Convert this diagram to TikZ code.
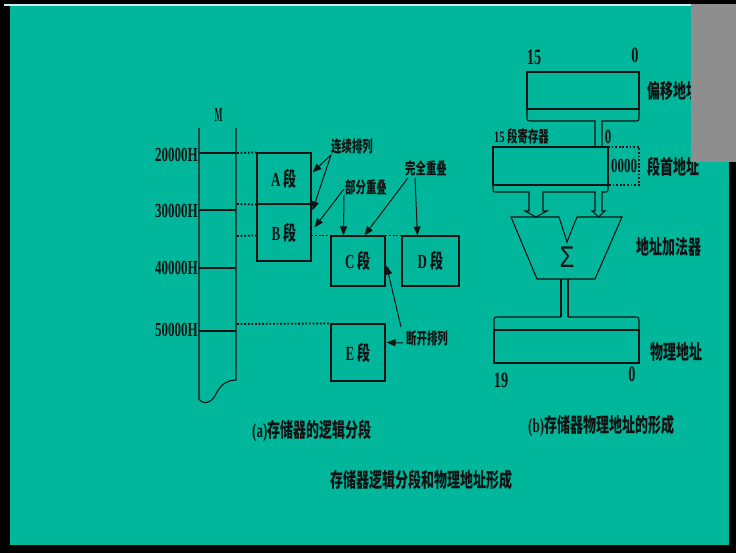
\documentclass[tikz,border=0pt]{standalone}
\usepackage{fontspec}
\setmainfont{Liberation Serif}
\newfontfamily\cjk{Noto Sans CJK SC}
\newfontfamily\sigfont{Liberation Sans}
\usetikzlibrary{arrows.meta,calc}
\definecolor{bg}{RGB}{0,183,156}
\definecolor{inkc}{RGB}{18,18,18}
\definecolor{panelgray}{RGB}{142,142,142}
\newcommand\sq[1]{\scalebox{0.65}[1]{#1}}
\begin{document}
\begin{tikzpicture}[x=1pt,y=-1pt,
  ink/.style={draw=inkc, line width=1.1pt},
  segbox/.style={ink, minimum width=54pt, inner sep=0pt, text=inkc, font=\fontsize{20}{22}\selectfont\bfseries},
  dotl/.style={draw=inkc, line width=1.8pt, dash pattern=on 1.8pt off 1.8pt},
  arr/.style={draw=inkc, line width=1pt, -{Triangle[length=9pt,width=7pt]}},
  big/.style={inner sep=0pt, text=inkc, font=\fontsize{20}{22}\selectfont\bfseries},
  bigger/.style={inner sep=0pt, text=inkc, font=\fontsize{22}{24}\selectfont\bfseries},
  small/.style={inner sep=0pt, text=inkc, font=\fontsize{16}{18}\selectfont\bfseries}]
\useasboundingbox (0,0) rectangle (736,553);
% background
\fill[black] (0,0) rectangle (736,553);
\fill[bg] (10,6.3) rectangle (729,545);
\fill[white!80!bg] (4,4.5) rectangle (691,6.3);

% ---------- (a) logical segments ----------
\draw[ink] (199,128) -- (199,399) .. controls (203,405) and (212,404) .. (217,392)
  .. controls (222,383) and (229,380) .. (236,380) -- (236,128);
\foreach \yy in {153,210,268,331} \draw[ink] (199,\yy) -- (236,\yy);

\node[big] (M) at (218.5,115) {\scalebox{0.42}[1]{M}};
\node[big, anchor=east] (h2) at (198,155) {\sq{20000H}};
\node[big, anchor=east] (h3) at (198,211) {\sq{30000H}};
\node[big, anchor=east] (h4) at (198,268) {\sq{40000H}};
\node[big, anchor=east] (h5) at (198,330) {\sq{50000H}};

\node[segbox, minimum height=51pt] (A) at (284,178.5) {\sq{A {\cjk 段}}};
\node[segbox, minimum height=57pt] (B) at (284,232.5) {\sq{B {\cjk 段}}};
\node[segbox, minimum height=50pt] (C) at (358,261) {\sq{C {\cjk 段}}};
\node[segbox, minimum width=57pt, minimum height=50pt] (D) at (430.5,261) {\sq{D {\cjk 段}}};
\node[segbox, minimum height=57pt] (E) at (358,352.5) {\sq{E {\cjk 段}}};

\draw[dotl] (237,153) -- (A.north west);
\draw[dotl] (237,204) -- (A.south west);
\draw[dotl] (237,236) -- (B.west |- C.north);
\draw[dotl] (B.east |- C.north) -- (C.north west);
\draw[dotl] (C.north east) -- (D.north west);
\draw[dotl] (237,324) -- (E.north west);

\node[small] (lx) at (352,147) {\sq{\cjk 连续排列}};
\node[small] (bf) at (366,187) {\sq{\cjk 部分重叠}};
\node[small] (wq) at (426,168) {\sq{\cjk 完全重叠}};
\node[small] (dk) at (427,338) {\sq{\cjk 断开排列}};

\draw[arr] (lx.south west) -- ($(A.north east)+(1,20)$);
\draw[arr] (lx.south west) -- ($(B.north east)+(1,7)$);
\draw[arr] ($(bf.south west)+(-1,-6)$) -- ($(B.north east)+(3,24)$);
\draw[arr] ($(bf.south west)+(-1,0)$) -- ($(C.north west)+(13,0)$);
\draw[arr] ($(wq.south west)+(3,2)$) -- ($(C.north west)+(34,0)$);
\draw[arr] ($(wq.south west)+(10,2)$) -- ($(D.north west)+(16,0)$);
\draw[arr] ($(dk.west)+(-5,-11)$) -- ($(C.south east)+(1,-21)$);
\draw[arr] ($(dk.west)+(-3,5)$) -- ($(E.north east)+(1,19)$);

\node[big, anchor=west] (capa) at (252,431) {\sq{(a){\cjk 存储器的逻辑分段}}};

% ---------- (b) physical address ----------
% offset register
\draw[ink] (527,72) rectangle (639,109);
\draw[ink] (527,109) -- (527,116) .. controls (527,121) .. (532,121) -- (595,121) -- (595,147);
\draw[ink] (602,147) -- (602,121) -- (634,121) .. controls (639,121) .. (639,116) -- (639,109);
% segment register
\draw[ink] (493,147) rectangle (608,185);
\draw[dotl] (608,147) -- (639,147) -- (639,185) -- (608,185);
\draw[ink] (493,185) -- (493,188) .. controls (493,192) .. (497,192) -- (529,192) -- (529,211)
  -- (525,211) -- (536,217) -- (547,211) -- (543,211) -- (543,192) -- (595,192) -- (595,211)
  -- (592,211) -- (598.5,217) -- (605,211) -- (602,211) -- (602,192) -- (604,192)
  .. controls (608,192) .. (608,188) -- (608,185);
% adder
\draw[ink] (511,217) -- (559,217) -- (567,242) -- (577,217) -- (622,217) -- (595,279) -- (537,279) -- cycle;
\node[inner sep=0pt, text=inkc, font=\fontsize{30}{32}\selectfont\sigfont] (sig) at (567,257) {\scalebox{0.8}[1]{Σ}};
% output stem and physical register
\draw[ink] (561,279) -- (561,317);
\draw[ink] (568,279) -- (568,317);
\draw[ink] (494,330) rectangle (639,363);
\draw[ink] (494,330) -- (494,322) .. controls (494,317) .. (499,317) -- (561,317);
\draw[ink] (568,317) -- (634,317) .. controls (639,317) .. (639,322) -- (639,330);

\node[bigger] (o15) at (534,57) {\sq{15}};
\node[bigger] (o0) at (635,55) {\sq{0}};
\node[big, anchor=west] (offl) at (647,91) {\sq{\cjk 偏移地址}};
\node[small, anchor=west] (segl) at (494,136) {\sq{15 {\cjk 段寄存器}}};
\node[big] (s0) at (608,137) {\sq{0}};
\node[big] (zz) at (624,166) {\sq{0000}};
\node[big, anchor=west] (basel) at (647,167) {\sq{\cjk 段首地址}};
\node[big, anchor=west] (addl) at (636,247) {\sq{\cjk 地址加法器}};
\node[big, anchor=west] (phyl) at (650,352) {\sq{\cjk 物理地址}};
\node[bigger] (p19) at (501,380) {\sq{19}};
\node[bigger] (p0) at (632,374) {\sq{0}};

\node[big, anchor=west] (capb) at (528,426) {\sq{(b){\cjk 存储器物理地址的形成}}};
\node[big, anchor=west] (capm) at (330,480) {\sq{\cjk 存储器逻辑分段和物理地址形成}};

% gray panel on top right
\fill[panelgray] (691,4.5) rectangle (736,162);
\end{tikzpicture}
\end{document}
